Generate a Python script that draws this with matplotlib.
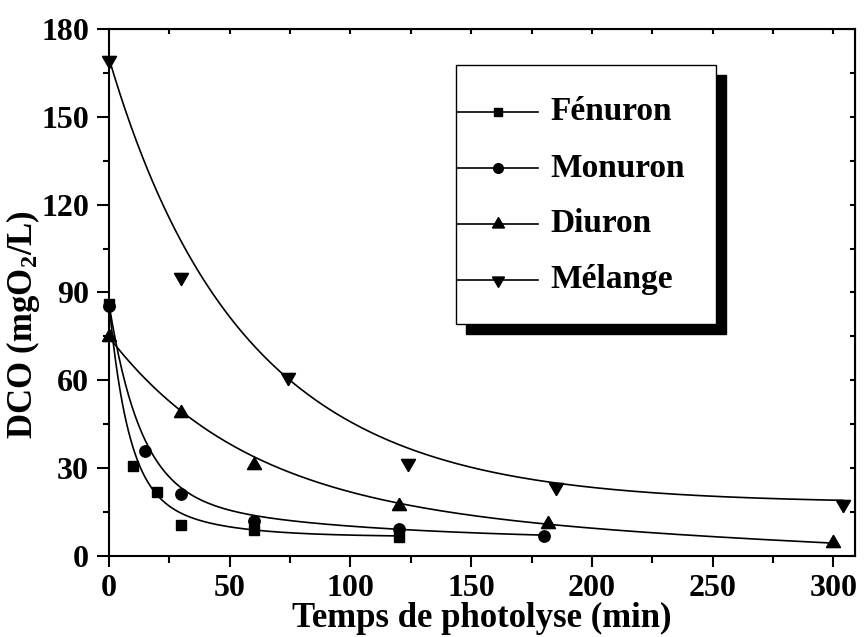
import numpy as np
import matplotlib
matplotlib.use("Agg")
import matplotlib.pyplot as plt
from matplotlib.patches import Rectangle
from matplotlib.ticker import MultipleLocator

plt.rcParams['font.family'] = ['Liberation Serif', 'DejaVu Serif']
plt.rcParams['font.weight'] = 'bold'
plt.rcParams['axes.labelweight'] = 'bold'
plt.rcParams['mathtext.default'] = 'regular'

# ---- measured points ----
fen_t = [0, 10, 20, 30, 60, 120]
fen_y = [85.9, 30.8, 21.7, 10.6, 8.9, 6.6]
mon_t = [0, 15, 30, 60, 120, 180]
mon_y = [85.3, 35.9, 21.2, 12.1, 9.1, 6.9]
diu_t = [0, 30, 60, 120, 182, 300]
diu_y = [74.7, 49.0, 31.1, 16.9, 10.9, 4.6]
mel_t = [0, 30, 74, 124, 185, 304]
mel_y = [169.5, 95.3, 61.0, 31.9, 23.7, 17.8]

# ---- fitted decay curves (y0, A1, t1, A2, t2) ----
fen_fit = [6.58, 59.84, 7.81, 19.57, 27.92]
mon_fit = [5.22, 64.44, 13.15, 16.31, 83.61]
diu_fit = [-101.62, 59.58, 57.65, 116.79, 3000.0]
mel_fit = [18.0, 10.26, 20.91, 141.65, 61.33]

labels = ['Fénuron', 'Monuron', 'Diuron', 'Mélange']
x_ticks = [0, 50, 100, 150, 200, 250, 300]
y_ticks = [0, 30, 60, 90, 120, 150, 180]

fig = plt.figure(figsize=(8.64, 6.37), dpi=100)
ax = fig.add_axes([0.1262, 0.1272, 0.8634, 0.8273])

series = [(fen_t, fen_y, fen_fit, 's', 7.5),
          (mon_t, mon_y, mon_fit, 'o', 8.2),
          (diu_t, diu_y, diu_fit, (3, 0, 0), 11.8),
          (mel_t, mel_y, mel_fit, (3, 0, 180), 11.8)]
for t, y, p, m, ms in series:
    y0, a1, t1, a2, t2 = p
    tt = np.linspace(0, max(t), 400)
    ax.plot(tt, y0 + a1 * np.exp(-tt / t1) + a2 * np.exp(-tt / t2), color='k', lw=1.2, zorder=2)
    ax.plot(t, y, linestyle='none', marker=m, ms=ms, color='k', clip_on=False, zorder=3)

ax.set_xlim(0, 309)
ax.set_ylim(0, 180)
ax.set_xticks(x_ticks)
ax.set_yticks(y_ticks)
ax.xaxis.set_minor_locator(MultipleLocator(25))
ax.yaxis.set_minor_locator(MultipleLocator(15))
for s in ax.spines.values():
    s.set_linewidth(1.5)
ax.tick_params(axis='x', which='major', direction='out', length=8, width=1.5, pad=5, labelsize=23)
ax.tick_params(axis='x', which='minor', direction='out', length=5, width=1.5)
ax.tick_params(axis='y', which='major', direction='out', length=8.5, width=1.5, pad=6, labelsize=23)
ax.tick_params(axis='y', which='minor', direction='out', length=4.5, width=1.5)

top = ax.secondary_xaxis('top')
top.xaxis.set_major_locator(MultipleLocator(25))
top.tick_params(direction='in', length=3.6, width=1.5, labeltop=False)
right = ax.secondary_yaxis('right')
right.yaxis.set_major_locator(MultipleLocator(15))
right.tick_params(direction='in', length=3.6, width=1.5, labelright=False)

ax.set_xlabel('Temps de photolyse (min)', fontsize=25)
ax.xaxis.set_label_coords(0.5, -0.088)
ax.set_ylabel('DCO (mgO$_2$/L)', fontsize=25)
ax.yaxis.set_label_coords(-0.09, 0.44)

# legend box with drop shadow
bx0, bx1, by0, by1 = 0.4651, 0.8137, 0.4402, 0.9317
ax.add_patch(Rectangle((bx0 + 0.0134, by0 - 0.019), bx1 - bx0, by1 - by0, transform=ax.transAxes,
                       facecolor='k', edgecolor='k', zorder=5, clip_on=False))
ax.add_patch(Rectangle((bx0, by0), bx1 - bx0, by1 - by0, transform=ax.transAxes,
                       facecolor='white', edgecolor='k', lw=1.0, zorder=6, clip_on=False))
rows = [0.8425, 0.7362, 0.6300, 0.5237]
for (t, y, p, m, ms), lab, ry in zip(series, labels, rows):
    ax.plot([0.4665, 0.5214, 0.5751], [ry, ry, ry], transform=ax.transAxes, color='k', lw=1.2,
            marker=m, ms=ms * 0.85, markevery=[1], zorder=7, clip_on=False)
    ax.text(0.5912, ry, lab, transform=ax.transAxes, fontsize=24, va='center', ha='left', zorder=7)

fig.savefig('out.png', dpi=100)
